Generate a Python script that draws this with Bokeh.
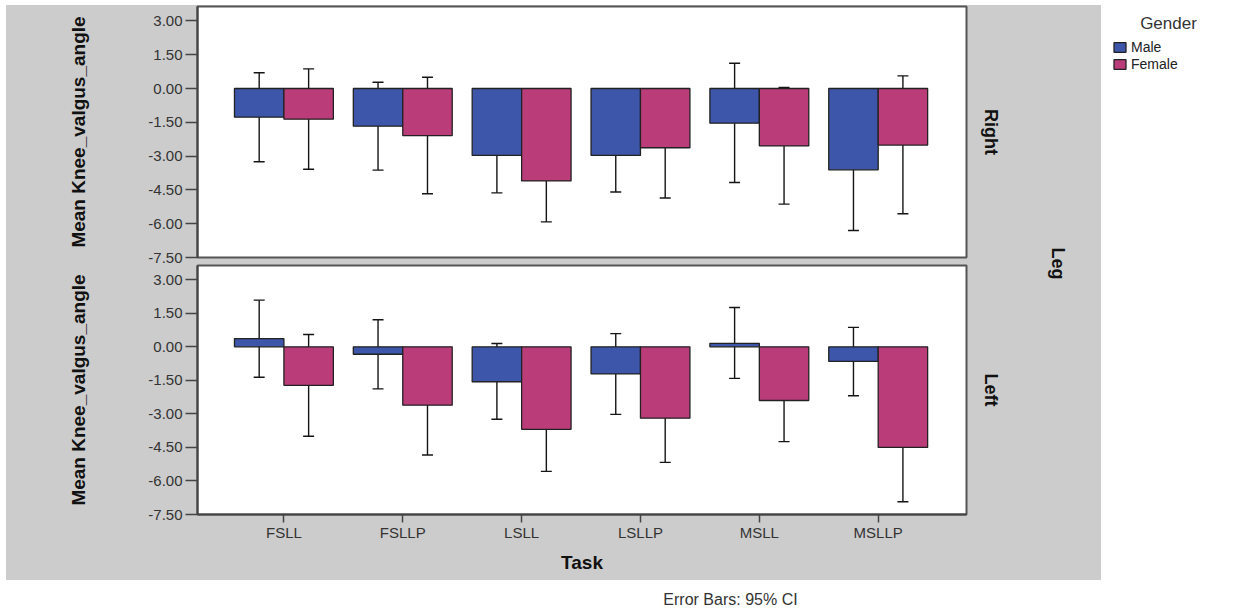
import numpy as np
from bokeh.plotting import figure
from bokeh.models import (ColumnDataSource, Range1d, FixedTicker, NumeralTickFormatter,
                          LinearAxis, Whisker, TeeHead, Legend, LegendItem, Label, Spacer)
from bokeh.layouts import row, column
from bokeh.embed import file_html
from bokeh.resources import INLINE

# Task categories and groups
tasks = ["FSLL", "FSLLP", "LSLL", "LSLLP", "MSLL", "MSLLP"]
genders = ["Male", "Female"]

# Right leg: means and 95% CI bounds
right_male_mean = [-1.27, -1.67, -2.97, -2.97, -1.54, -3.61]
right_male_lo = [-3.25, -3.62, -4.63, -4.59, -4.17, -6.30]
right_male_hi = [0.70, 0.28, -1.30, -1.30, 1.12, -0.92]
right_female_mean = [-1.36, -2.09, -4.10, -2.63, -2.55, -2.51]
right_female_lo = [-3.58, -4.67, -5.92, -4.86, -5.13, -5.56]
right_female_hi = [0.87, 0.50, -2.25, -0.39, 0.05, 0.56]

# Left leg: means and 95% CI bounds
left_male_mean = [0.37, -0.33, -1.56, -1.21, 0.16, -0.65]
left_male_lo = [-1.36, -1.88, -3.24, -3.02, -1.41, -2.19]
left_male_hi = [2.09, 1.21, 0.15, 0.59, 1.76, 0.87]
left_female_mean = [-1.72, -2.61, -3.69, -3.19, -2.40, -4.50]
left_female_lo = [-4.00, -4.84, -5.57, -5.17, -4.24, -6.93]
left_female_hi = [0.55, -0.37, -1.82, -1.19, -0.56, -2.07]

y_ticks = [3.0, 1.5, 0.0, -1.5, -3.0, -4.5, -6.0, -7.5]

GREY = "#cccccc"
FRAME = "#555555"
COLORS = {"Male": "#3d56a9", "Female": "#ba3d7a"}
FONT = "Liberation Sans"
BAR_W = 0.416
OFFSETS = {"Male": -BAR_W / 2, "Female": BAR_W / 2}


def make_panel(leg, series, height, bottom_axis):
    p = figure(width=1024, height=height, output_backend="svg", toolbar_location=None,
               x_range=Range1d(-0.727, 5.743), y_range=Range1d(-7.5, 3.64),
               x_axis_location="below" if bottom_axis else None,
               min_border_left=191, min_border_right=64,
               min_border_top=1,
               min_border_bottom=66 if bottom_axis else 7)
    p.border_fill_color = GREY
    p.background_fill_color = "white"
    p.outline_line_color = FRAME
    p.outline_line_width = 2
    p.xgrid.visible = False
    p.ygrid.visible = False

    idx = np.arange(len(tasks))
    for g in genders:
        mean, lo, hi = series[g]
        src = ColumnDataSource(dict(x=idx + OFFSETS[g], top=mean, lo=lo, hi=hi))
        p.vbar(x="x", top="top", bottom=0, width=BAR_W, source=src,
               fill_color=COLORS[g], line_color="#222222", line_width=1.3)
        p.add_layout(Whisker(base="x", upper="hi", lower="lo", source=src,
                             line_color="#151515", line_width=1.4,
                             upper_head=TeeHead(size=11, line_color="#151515", line_width=1.4),
                             lower_head=TeeHead(size=11, line_color="#151515", line_width=1.4)))

    ya = p.yaxis[0]
    ya.ticker = FixedTicker(ticks=y_ticks)
    ya.formatter = NumeralTickFormatter(format="0.00")
    ya.major_tick_out = 12
    ya.major_tick_in = 0
    ya.minor_tick_line_color = None
    ya.major_tick_line_color = "#444444"
    ya.major_tick_line_width = 1.5
    ya.axis_line_color = "#444444"
    ya.axis_line_width = 2
    ya.major_label_standoff = 3
    ya.major_label_text_font = FONT
    ya.major_label_text_font_size = "15px"
    ya.major_label_text_color = "#333333"
    ya.axis_label = "Mean Knee_valgus_angle"
    ya.axis_label_text_font = FONT
    ya.axis_label_text_font_size = "19px"
    ya.axis_label_text_font_style = "bold"
    ya.axis_label_text_color = "#111111"
    ya.axis_label_standoff = 56

    if bottom_axis:
        xa = p.xaxis[0]
        xa.ticker = FixedTicker(ticks=list(range(len(tasks))))
        xa.major_label_overrides = {i: t for i, t in enumerate(tasks)}
        xa.major_tick_out = 8
        xa.major_tick_in = 0
        xa.minor_tick_line_color = None
        xa.major_tick_line_color = "#444444"
        xa.major_tick_line_width = 1.5
        xa.axis_line_color = "#444444"
        xa.axis_line_width = 2
        xa.major_label_standoff = 1
        xa.major_label_text_font = FONT
        xa.major_label_text_font_size = "15px"
        xa.major_label_text_color = "#333333"
        xa.axis_label = "Task"
        xa.axis_label_text_font = FONT
        xa.axis_label_text_font_size = "19px"
        xa.axis_label_text_font_style = "bold"
        xa.axis_label_text_color = "#111111"
        xa.axis_label_standoff = 8

    # facet strip label on the right
    strip = LinearAxis(ticker=FixedTicker(ticks=[]), axis_line_color=None,
                       major_tick_line_color=None, minor_tick_line_color=None,
                       major_tick_out=0, minor_tick_out=0, major_label_standoff=0,
                       axis_label=leg, axis_label_standoff=14,
                       axis_label_text_font=FONT, axis_label_text_font_size="18px",
                       axis_label_text_font_style="bold", axis_label_text_color="#111111")
    p.add_layout(strip, "right")
    return p


top = make_panel("Right", {"Male": (right_male_mean, right_male_lo, right_male_hi),
                           "Female": (right_female_mean, right_female_lo, right_female_hi)},
                 259, False)
bottom = make_panel("Left", {"Male": (left_male_mean, left_male_lo, left_male_hi),
                             "Female": (left_female_mean, left_female_lo, left_female_hi)},
                    316, True)

# outer facet column label
side = figure(width=71, height=575, output_backend="svg", toolbar_location=None,
              x_axis_location=None, y_axis_location=None, min_border=0, title=None)
side.background_fill_color = GREY
side.border_fill_color = GREY
side.outline_line_color = None
side.grid.visible = False
side.add_layout(Label(x=27, y=317, x_units="screen", y_units="screen", text="Leg",
                      angle=-np.pi / 2, text_align="center", text_baseline="middle",
                      text_font=FONT, text_font_size="18px", text_font_style="bold",
                      text_color="#111111"))

# legend column
leg_fig = figure(width=132, height=580, output_backend="svg", toolbar_location=None,
                 x_axis_location=None, y_axis_location=None, min_border=0, title=None,
                 x_range=Range1d(0, 1), y_range=Range1d(0, 1))
leg_fig.background_fill_color = "white"
leg_fig.border_fill_color = "white"
leg_fig.outline_line_color = None
leg_fig.grid.visible = False
items = []
for g in genders:
    r = leg_fig.vbar(x=[np.nan], top=[np.nan], width=0.5, fill_color=COLORS[g],
                     line_color="#222222", line_width=1.3)
    items.append(LegendItem(label=g, renderers=[r]))
legend = Legend(items=items, location=(11, 508), padding=0, margin=0, spacing=1,
                glyph_width=15, glyph_height=12, label_height=12, label_standoff=4,
                label_text_font=FONT, label_text_font_size="14px", label_text_color="#222222",
                border_line_color=None, background_fill_alpha=0)
leg_fig.add_layout(legend, "center")
leg_fig.add_layout(Label(x=67, y=557, x_units="screen", y_units="screen", text="Gender",
                         text_align="center", text_baseline="middle", text_font=FONT,
                         text_font_size="17px", text_color="#333333"))

# caption strip
cap = figure(width=1233, height=33, output_backend="svg", toolbar_location=None,
             x_axis_location=None, y_axis_location=None, min_border=0, title=None,
             x_range=Range1d(0, 1), y_range=Range1d(0, 1))
cap.background_fill_color = "white"
cap.border_fill_color = "white"
cap.outline_line_color = None
cap.grid.visible = False
cap.add_layout(Label(x=730, y=14, x_units="screen", y_units="screen",
                     text="Error Bars: 95% CI", text_align="center", text_baseline="middle",
                     text_font=FONT, text_font_size="16px", text_color="#333333"))

panels = column(top, bottom, styles={"background-color": GREY})
grey_block = row(panels, side, styles={"background-color": GREY})
layout = column(
    row(Spacer(width=6, height=580),
        column(Spacer(width=1095, height=5), grey_block),
        leg_fig),
    cap)

open("out.html", "w").write(file_html(layout, INLINE))
